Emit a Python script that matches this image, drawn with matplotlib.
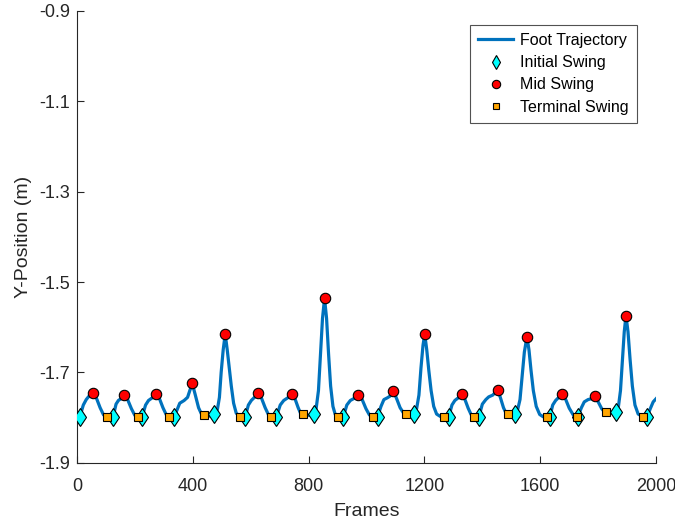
import matplotlib
matplotlib.use("Agg")
import matplotlib.pyplot as plt

plt.rcParams['font.family'] = ['Liberation Sans', 'DejaVu Sans']
plt.rcParams['axes.unicode_minus'] = False

# Foot trajectory (frame, y)
traj_frames = [
    0, 10, 22, 32, 42, 55, 68, 80, 92, 104, 115,
    125, 135, 143, 152, 163, 175, 188, 200, 211, 218,
    225, 237, 247, 260, 273, 285, 297, 308, 318, 327,
    336, 355, 370, 382, 398, 408, 420, 430, 439, 455,
    474, 485, 492, 498, 505, 512, 519, 526, 533, 541, 550, 564, 572,
    581, 592, 602, 613, 626, 638, 650, 661, 671, 680,
    689, 702, 714, 728, 744, 754, 764, 772, 779, 798,
    817, 826, 834, 841, 848, 855, 862, 869, 876, 884, 892, 900, 910,
    920, 932, 944, 958, 972, 985, 998, 1010, 1021, 1030,
    1038, 1050, 1060, 1072, 1082, 1093, 1104, 1116, 1128, 1138, 1150,
    1163, 1173, 1181, 1188, 1195, 1201, 1208, 1215, 1223, 1232, 1242, 1254, 1266, 1275,
    1284, 1295, 1305, 1317, 1329, 1340, 1351, 1361, 1370, 1379,
    1388, 1400, 1412, 1422, 1436, 1453, 1463, 1473, 1481, 1488, 1500,
    1512, 1522, 1530, 1537, 1545, 1554, 1561, 1568, 1576, 1586, 1598, 1610, 1623, 1628,
    1633, 1643, 1653, 1664, 1675, 1688, 1700, 1714, 1727,
    1730, 1742, 1752, 1765, 1777, 1789, 1800, 1812, 1820, 1827, 1845,
    1862, 1870, 1877, 1883, 1890, 1896, 1903, 1910, 1918, 1927, 1938, 1955, 1962,
    1969, 1980, 1990, 2000,
]
traj_y = [
    -1.800, -1.798, -1.772, -1.760, -1.752, -1.745, -1.758, -1.778, -1.794, -1.798, -1.800,
    -1.798, -1.770, -1.762, -1.758, -1.750, -1.760, -1.780, -1.795, -1.798, -1.800,
    -1.798, -1.772, -1.762, -1.756, -1.747, -1.758, -1.778, -1.793, -1.798, -1.800,
    -1.798, -1.768, -1.762, -1.755, -1.724, -1.748, -1.778, -1.792, -1.795, -1.797,
    -1.792, -1.782, -1.755, -1.700, -1.650, -1.615, -1.650, -1.690, -1.730, -1.768, -1.790, -1.798, -1.800,
    -1.798, -1.772, -1.762, -1.755, -1.745, -1.758, -1.778, -1.793, -1.798, -1.800,
    -1.798, -1.772, -1.762, -1.756, -1.747, -1.760, -1.778, -1.790, -1.792, -1.795,
    -1.792, -1.780, -1.740, -1.660, -1.580, -1.536, -1.580, -1.660, -1.730, -1.775, -1.793, -1.798, -1.800,
    -1.798, -1.772, -1.762, -1.757, -1.750, -1.760, -1.780, -1.794, -1.798, -1.800,
    -1.798, -1.775, -1.760, -1.756, -1.752, -1.741, -1.758, -1.778, -1.790, -1.792, -1.794,
    -1.792, -1.780, -1.750, -1.690, -1.640, -1.615, -1.650, -1.695, -1.740, -1.775, -1.792, -1.797, -1.798, -1.800,
    -1.798, -1.772, -1.762, -1.756, -1.747, -1.760, -1.779, -1.793, -1.798, -1.800,
    -1.798, -1.770, -1.760, -1.754, -1.750, -1.738, -1.757, -1.778, -1.789, -1.792, -1.794,
    -1.792, -1.782, -1.760, -1.710, -1.655, -1.621, -1.650, -1.695, -1.740, -1.775, -1.793, -1.798, -1.798, -1.800,
    -1.798, -1.772, -1.762, -1.755, -1.747, -1.760, -1.779, -1.794, -1.798,
    -1.798, -1.778, -1.765, -1.760, -1.758, -1.753, -1.765, -1.780, -1.786, -1.788, -1.790,
    -1.787, -1.775, -1.740, -1.680, -1.610, -1.574, -1.610, -1.670, -1.730, -1.772, -1.792, -1.798, -1.800,
    -1.798, -1.780, -1.765, -1.758,
]

initial_frames = [10, 125, 225, 336, 474, 581, 689, 817, 920, 1038, 1163, 1284, 1388, 1512, 1633, 1730, 1862, 1969]
initial_y = [-1.798, -1.798, -1.798, -1.798, -1.792, -1.798, -1.798, -1.792, -1.798, -1.798,
             -1.792, -1.798, -1.798, -1.792, -1.798, -1.798, -1.787, -1.798]

mid_frames = [55, 163, 273, 398, 512, 626, 744, 855, 972, 1093, 1201, 1329, 1453, 1554, 1675, 1789, 1896]
mid_y = [-1.745, -1.750, -1.747, -1.724, -1.615, -1.745, -1.747, -1.536, -1.750, -1.741,
         -1.615, -1.747, -1.738, -1.621, -1.747, -1.753, -1.574]

terminal_frames = [104, 211, 318, 439, 564, 671, 779, 900, 1021, 1138, 1266, 1370, 1488, 1623, 1727, 1827, 1955]
terminal_y = [-1.798, -1.798, -1.798, -1.795, -1.798, -1.798, -1.792, -1.798, -1.798, -1.792,
              -1.798, -1.798, -1.792, -1.798, -1.798, -1.788, -1.798]

x_ticks = [0, 400, 800, 1200, 1600, 2000]
y_ticks = [-1.9, -1.7, -1.5, -1.3, -1.1, -0.9]

text_col = '#262626'

fig = plt.figure(figsize=(6.75, 5.23), dpi=100)
ax = fig.add_axes([0.114, 0.115, 0.858, 0.864])

ax.plot(traj_frames, traj_y, color='#0072BD', lw=2.3, label='Foot Trajectory', zorder=2)
ax.plot(initial_frames, initial_y, linestyle='none', marker='d', markersize=9.5,
        markerfacecolor='#00FFFF', markeredgecolor='black', markeredgewidth=0.8,
        label='Initial Swing', zorder=3)
ax.plot(mid_frames, mid_y, linestyle='none', marker='o', markersize=7.5,
        markerfacecolor='#FF0000', markeredgecolor='black', markeredgewidth=0.8,
        label='Mid Swing', zorder=3)
ax.plot(terminal_frames, terminal_y, linestyle='none', marker='s', markersize=6,
        markerfacecolor='#FFA500', markeredgecolor='black', markeredgewidth=0.8,
        label='Terminal Swing', zorder=3)

ax.set_xlim(0, 2000)
ax.set_ylim(-1.9, -0.9)
ax.set_xticks(x_ticks)
ax.set_xticklabels([str(v) for v in x_ticks])
ax.set_yticks(y_ticks)
ax.set_yticklabels(['%.1f' % v for v in y_ticks])

for s in ['top', 'right']:
    ax.spines[s].set_visible(False)
for s in ['left', 'bottom']:
    ax.spines[s].set_color(text_col)
    ax.spines[s].set_linewidth(0.8)

ax.tick_params(direction='in', length=5, width=0.8, colors=text_col,
               labelsize=13, pad=5)
ax.tick_params(axis='x', pad=11)
ax.set_xlabel('Frames', fontsize=14, color=text_col, labelpad=6)
ax.set_ylabel('Y-Position (m)', fontsize=14, color=text_col, labelpad=5)

leg = ax.legend(loc='upper right', bbox_to_anchor=(0.967, 0.969), borderaxespad=0,
                fontsize=11.5, frameon=True, fancybox=False, edgecolor=text_col,
                handlelength=2.2, borderpad=0.5, labelspacing=0.45, handletextpad=0.45,
                markerscale=0.8)
leg.get_frame().set_linewidth(0.8)
for t in leg.get_texts():
    t.set_color('black')

fig.savefig('out.png', dpi=100)
